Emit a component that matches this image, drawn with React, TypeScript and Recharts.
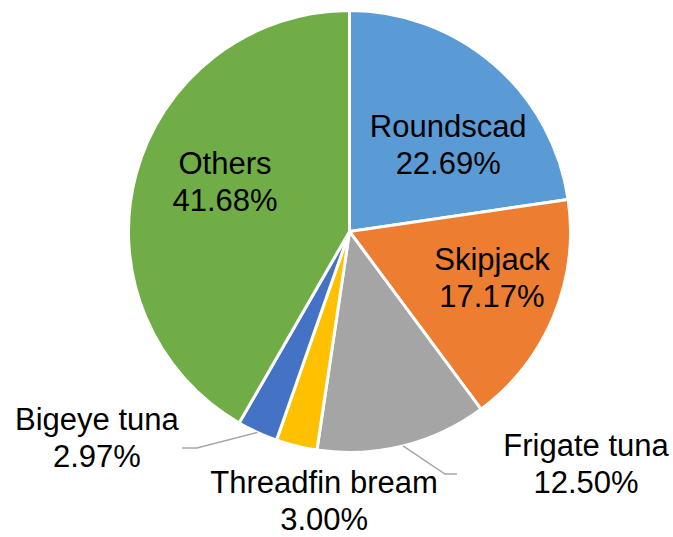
import { PieChart, Pie, Cell } from "recharts";

const species = [
  "Roundscad",
  "Skipjack",
  "Frigate tuna",
  "Threadfin bream",
  "Bigeye tuna",
  "Others",
];
const shares = [22.69, 17.17, 12.5, 3.0, 2.97, 41.68];

const COLORS = ["#5B9BD5", "#ED7D31", "#A5A5A5", "#FFC000", "#4472C4", "#70AD47"];

// label placement tweaks: radius factor + nudge, optional leader line elbow
const LABELS = [
  { k: 0.6, dx: 12, dy: 13 },
  { k: 0.6, dx: 20, dy: -4.5 },
  { k: 1, dx: 183, dy: 17.6, line: { ex: 41.9, ey: 28.1, h: 12 } },
  { k: 1, dx: 27.6, dy: 54.5 },
  { k: 1, dx: -160.5, dy: 5, line: { ex: -60.5, ey: 15.6, h: -15 } },
  { k: 0.6, dx: 3.6, dy: -15.7 },
];

const data = species.map((name, i) => ({ name, value: shares[i] }));

const RADIAN = Math.PI / 180;
const FONT = "'Liberation Sans', Arial, sans-serif";

const renderLabel = (props: any) => {
  const { cx, cy, midAngle, outerRadius, index, name, value } = props;
  const cfg = LABELS[index];
  const cos = Math.cos(-midAngle * RADIAN);
  const sin = Math.sin(-midAngle * RADIAN);
  const x = cx + outerRadius * cfg.k * cos + cfg.dx;
  const yMid = cy + outerRadius * cfg.k * sin + cfg.dy;
  const b1 = yMid - 7.5;
  const ex = cx + outerRadius * cos;
  const ey = cy + outerRadius * sin;
  return (
    <g key={`lbl-${index}`}>
      {cfg.line && (
        <polyline
          points={`${ex},${ey} ${ex + cfg.line.ex},${ey + cfg.line.ey} ${
            ex + cfg.line.ex + cfg.line.h
          },${ey + cfg.line.ey}`}
          fill="none"
          stroke="#A6A6A6"
          strokeWidth={1.5}
        />
      )}
      <text x={x} y={b1} textAnchor="middle" fill="#000" fontSize={31} fontFamily={FONT}>
        {name}
      </text>
      <text x={x} y={b1 + 37} textAnchor="middle" fill="#000" fontSize={31} fontFamily={FONT}>
        {`${Number(value).toFixed(2)}%`}
      </text>
    </g>
  );
};

const App = () => {
  return (
    <div
      style={{
        position: "absolute",
        left: 0,
        top: 0,
        width: 673,
        height: 537,
        background: "#fff",
        overflow: "hidden",
      }}
    >
      <PieChart width={673} height={537}>
        <Pie
          data={data}
          dataKey="value"
          nameKey="name"
          cx={344.5}
          cy={226.5}
          outerRadius={221}
          startAngle={90}
          endAngle={-270}
          stroke="#fff"
          strokeWidth={3}
          label={renderLabel}
          labelLine={false}
          isAnimationActive={false}
        >
          {data.map((entry, index) => (
            <Cell key={`cell-${index}`} fill={COLORS[index % COLORS.length]} />
          ))}
        </Pie>
      </PieChart>
    </div>
  );
};

export default App;
